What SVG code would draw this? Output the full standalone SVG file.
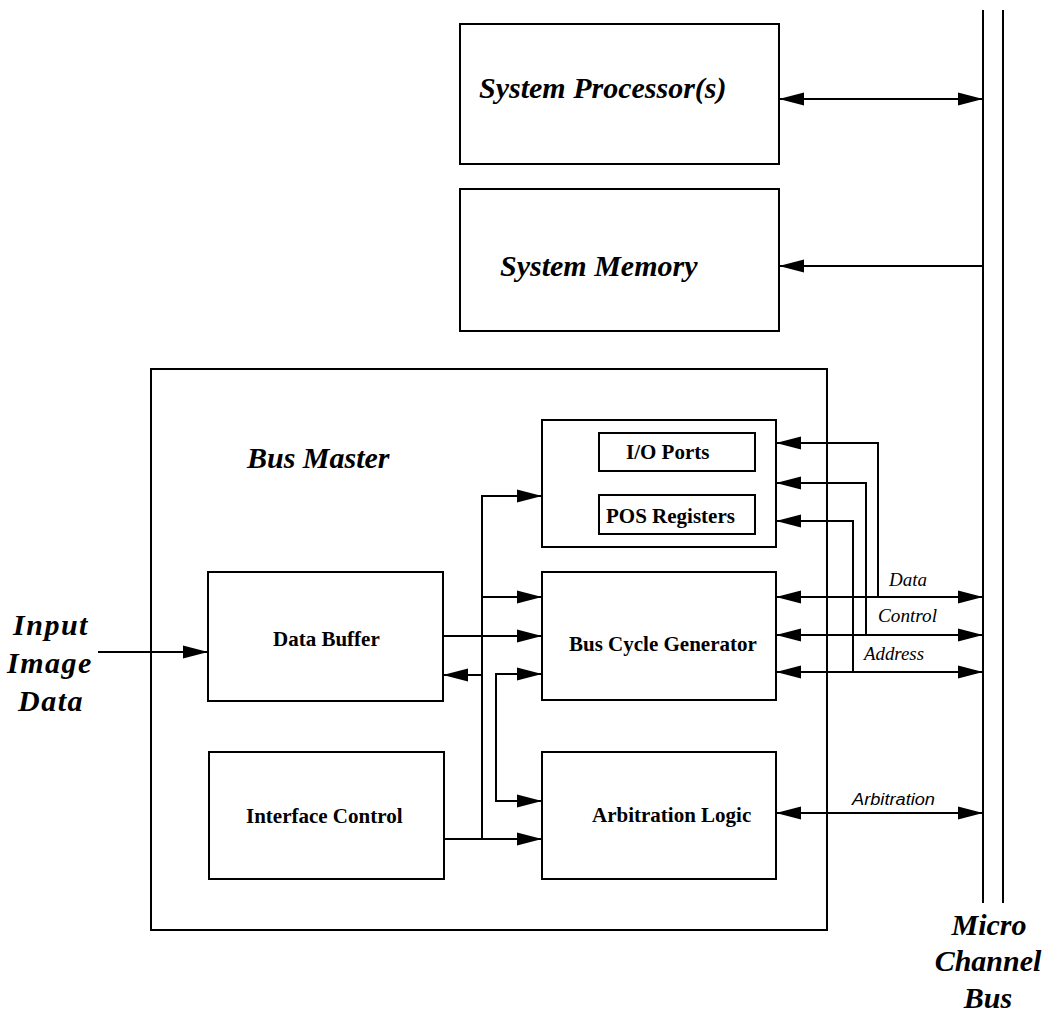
<svg xmlns="http://www.w3.org/2000/svg" width="1047" height="1019" viewBox="0 0 1047 1019">
<style>
.box{fill:none;stroke:#000;stroke-width:2}
.ln{fill:none;stroke:#000;stroke-width:2}
.bi{font-family:"Liberation Serif","Times New Roman",serif;font-weight:bold;font-style:italic;font-size:30px;fill:#000}
.b{font-family:"Liberation Serif","Times New Roman",serif;font-weight:bold;font-size:21px;fill:#000}
.si{font-family:"Liberation Serif","Times New Roman",serif;font-style:italic;font-size:18px;fill:#000}
.ai{font-family:"Liberation Sans",Arial,sans-serif;font-style:italic;font-size:16px;fill:#000}
.one{marker-end:url(#ah)}
.two{marker-start:url(#ah);marker-end:url(#ah)}
</style>
<defs>
<marker id="ah" markerUnits="userSpaceOnUse" markerWidth="26" markerHeight="14" refX="25" refY="7" orient="auto-start-reverse">
<path d="M0,0.5 L25,7 L0,13.5 z" fill="#000"/>
</marker>
</defs>
<rect width="1047" height="1019" fill="#fff"/>

<g id="micro-channel-bus">
<line class="ln" x1="983" y1="10" x2="983" y2="903"/>
<line class="ln" x1="1003" y1="10" x2="1003" y2="903"/>
<text class="bi" text-anchor="middle" x="989" y="935">Micro</text>
<text class="bi" text-anchor="middle" x="988" y="971">Channel</text>
<text class="bi" text-anchor="middle" x="988" y="1008">Bus</text>
</g>

<g id="system-processor">
<rect class="box" x="460" y="24" width="319" height="140"/>
<text class="bi" x="479" y="98" font-size="31">System Processor(s)</text>
</g>

<g id="system-memory">
<rect class="box" x="460" y="189" width="319" height="142"/>
<text class="bi" x="500" y="276" font-size="31">System Memory</text>
</g>

<g id="bus-master">
<rect class="box" x="151" y="369" width="676" height="561"/>
<text class="bi" x="247" y="468">Bus Master</text>
</g>

<g id="input-image-data">
<text class="bi" text-anchor="middle" x="51" y="635" font-size="29" letter-spacing="1.5">Input</text>
<text class="bi" text-anchor="middle" x="50" y="673" font-size="29" letter-spacing="1.5">Image</text>
<text class="bi" text-anchor="middle" x="51" y="711" font-size="29" letter-spacing="1.5">Data</text>
</g>

<g id="io-block">
<rect class="box" x="542" y="420" width="234" height="127"/>
</g>
<g id="io-ports">
<rect class="box" x="599" y="433" width="156" height="38"/>
<text class="b" x="626" y="459">I/O Ports</text>
</g>
<g id="pos-registers">
<rect class="box" x="599" y="495" width="156" height="39"/>
<text class="b" x="606" y="523">POS Registers</text>
</g>

<g id="bus-cycle-generator">
<rect class="box" x="542" y="572" width="234" height="128"/>
<text class="b" x="569" y="651">Bus Cycle Generator</text>
</g>

<g id="arbitration-logic">
<rect class="box" x="542" y="752" width="234" height="127"/>
<text class="b" x="592" y="822">Arbitration Logic</text>
</g>

<g id="data-buffer">
<rect class="box" x="208" y="572" width="235" height="129"/>
<text class="b" x="273" y="646">Data Buffer</text>
</g>

<g id="interface-control">
<rect class="box" x="209" y="752" width="235" height="127"/>
<text class="b" x="246" y="823">Interface Control</text>
</g>

<g id="connectors">
<line class="ln two" x1="779" y1="99" x2="983" y2="99"/>
<line class="ln one" x1="983" y1="266" x2="779" y2="266"/>
<line class="ln one" x1="98" y1="652" x2="208" y2="652"/>
<line class="ln one" x1="443" y1="636" x2="542" y2="636"/>
<line class="ln one" x1="444" y1="839" x2="542" y2="839"/>
<path class="ln one" d="M482,839 V496 H542"/>
<line class="ln one" x1="482" y1="597" x2="542" y2="597"/>
<line class="ln one" x1="482" y1="675" x2="443" y2="675"/>
<path class="ln two" d="M542,674 H496 V801 H542"/>
<line class="ln two" x1="776" y1="597" x2="983" y2="597"/>
<line class="ln two" x1="776" y1="635" x2="983" y2="635"/>
<line class="ln two" x1="776" y1="672" x2="983" y2="672"/>
<line class="ln two" x1="776" y1="813" x2="983" y2="813"/>
<path class="ln one" d="M878,597 V443 H776"/>
<path class="ln one" d="M866,635 V483 H776"/>
<path class="ln one" d="M853,672 V521 H776"/>
<text class="si" x="889" y="586" textLength="38" lengthAdjust="spacingAndGlyphs">Data</text>
<text class="si" x="878" y="622" textLength="59" lengthAdjust="spacingAndGlyphs">Control</text>
<text class="si" x="864" y="660" textLength="60" lengthAdjust="spacingAndGlyphs">Address</text>
<text class="ai" x="852" y="805" textLength="83" lengthAdjust="spacingAndGlyphs">Arbitration</text>
</g>
</svg>
